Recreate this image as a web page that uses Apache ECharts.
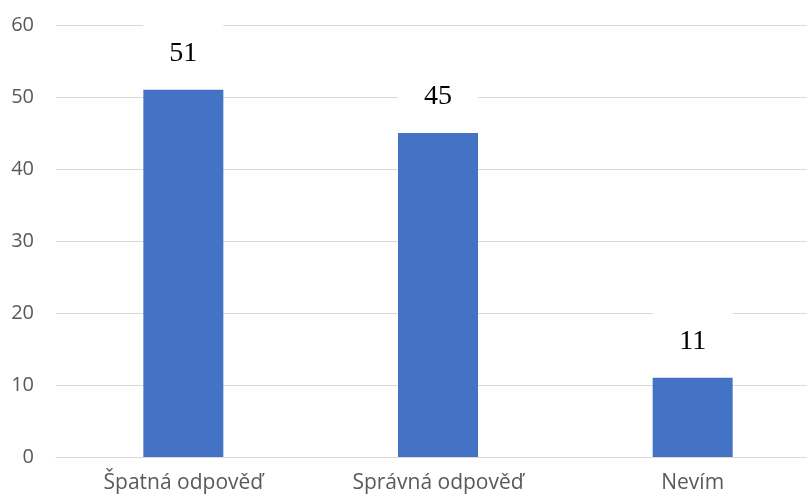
<!DOCTYPE html>
<html>
<head>
<meta charset="utf-8">
<script src="https://cdn.jsdelivr.net/npm/echarts@6/dist/echarts.min.js"></script>
<style>
  html, body { margin: 0; padding: 0; background: #fff; overflow: hidden; }
  /* plot runs a little past the right edge of the picture, as in the source */
  #chart { width: 820px; height: 498px; }
</style>
</head>
<body>
<div id="chart"></div>
<script>
// answers
var categories = ["Špatná odpověď", "Správná odpověď", "Nevím"];
var counts = [51, 45, 11];
var yTicks = [0, 10, 20, 30, 40, 50, 60];

var chart = echarts.init(document.getElementById("chart"));
chart.setOption({
  backgroundColor: "#ffffff",
  animation: false,
  grid: {
    left: 56,
    right: 0,
    top: 25,
    bottom: 41,
    containLabel: false
  },
  xAxis: {
    type: "category",
    data: categories,
    axisLine: { show: true, lineStyle: { color: "#d9d9d9", width: 1 } },
    axisTick: { show: false },
    axisLabel: {
      color: "#595959",
      fontFamily: "Open Sans",
      fontSize: 21,
      margin: 16
    }
  },
  yAxis: {
    type: "value",
    min: yTicks[0],
    max: yTicks[yTicks.length - 1],
    interval: 10,
    axisLine: { show: false },
    axisTick: { show: false },
    splitLine: { lineStyle: { color: "#d9d9d9", width: 1 } },
    axisLabel: {
      color: "#595959",
      fontFamily: "Open Sans",
      fontSize: 20,
      margin: 22
    }
  },
  series: [
    {
      type: "bar",
      data: counts,
      barWidth: 80,
      itemStyle: { color: "#4472c4" },
      label: {
        show: true,
        position: "top",
        distance: 4,
        color: "#000",
        fontFamily: "Liberation Serif",
        fontSize: 28,
        lineHeight: 28,
        backgroundColor: "#ffffff",
        width: 80,
        align: "center",
        padding: [18, 0, 18, 0]
      }
    }
  ]
});
</script>
</body>
</html>
